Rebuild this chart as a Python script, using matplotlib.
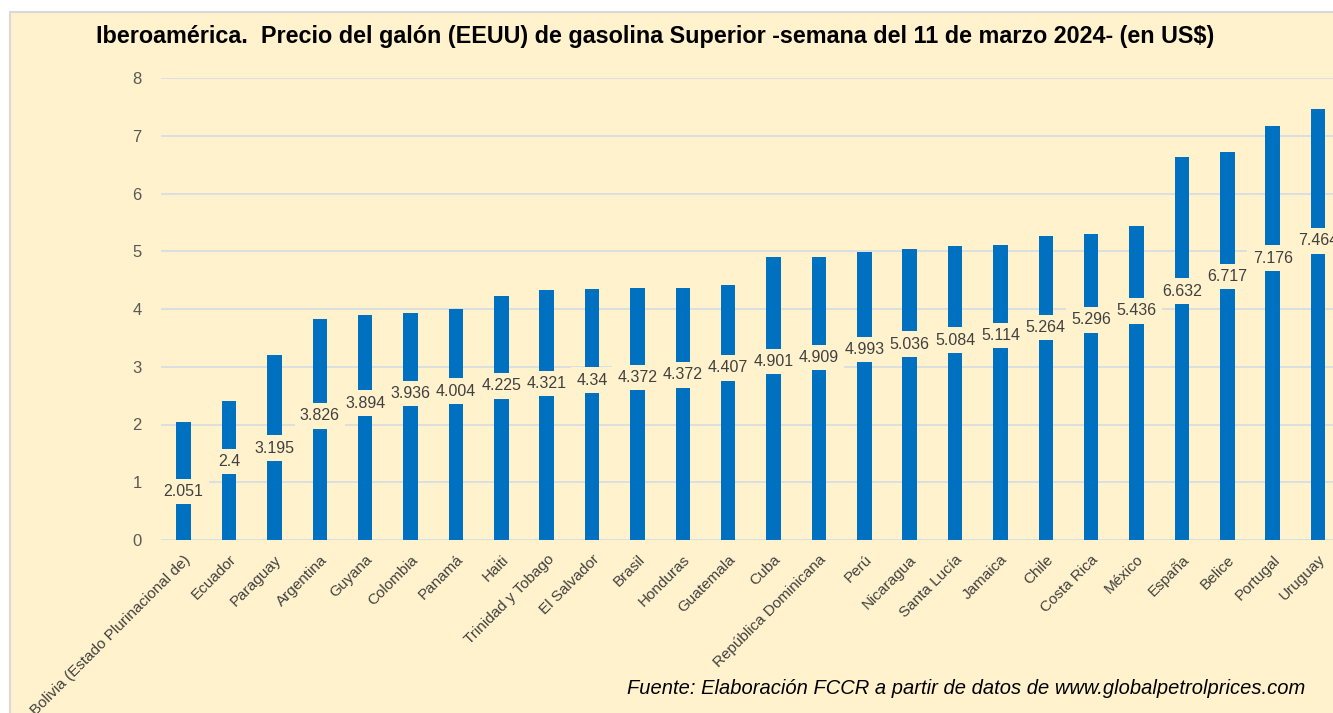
import matplotlib.pyplot as plt
from matplotlib.patches import Rectangle

plt.rcParams['font.family'] = ['Liberation Sans', 'DejaVu Sans']

# data (US$ por galón, semana del 11 de marzo 2024)
paises = ['Bolivia (Estado Plurinacional de)', 'Ecuador', 'Paraguay', 'Argentina', 'Guyana',
          'Colombia', 'Panamá', 'Haiti', 'Trinidad y Tobago', 'El Salvador', 'Brasil',
          'Honduras', 'Guatemala', 'Cuba', 'República Dominicana', 'Perú', 'Nicaragua',
          'Santa Lucía', 'Jamaica', 'Chile', 'Costa Rica', 'México', 'España', 'Belice',
          'Portugal', 'Uruguay']
precios = [2.051, 2.4, 3.195, 3.826, 3.894, 3.936, 4.004, 4.225, 4.321, 4.34, 4.372,
           4.372, 4.407, 4.901, 4.909, 4.993, 5.036, 5.084, 5.114, 5.264, 5.296, 5.436,
           6.632, 6.717, 7.176, 7.464]
# height of each value label (placed by hand in the original)
label_y = [0.84, 1.36, 1.59, 2.15, 2.37, 2.54, 2.58, 2.67, 2.71, 2.77, 2.81, 2.86, 2.98,
           3.09, 3.16, 3.30, 3.39, 3.46, 3.54, 3.68, 3.81, 3.97, 4.31, 4.56, 4.88, 5.18]
yticks = [0, 1, 2, 3, 4, 5, 6, 7, 8]

crema = '#FFF2CC'
azul = '#0070C0'

W, H = 1333, 713
fig = plt.figure(figsize=(W / 100, H / 100), dpi=100)
fig.patch.set_facecolor('white')

# cream panel with thin grey border
fondo = Rectangle((10 / W, -0.01), 1.0, (H - 12) / H + 0.01, transform=fig.transFigure,
                  facecolor=crema, edgecolor='#D9D9D9', linewidth=1.5, zorder=-5)
fig.patches.append(fondo)

ax = fig.add_axes([161 / W, (H - 540) / H, (W - 161) / W, 462 / H])
ax.set_facecolor('none')

x = list(range(len(paises)))
ax.bar(x, precios, width=0.32, color=azul, zorder=2)

for i in x:
    ax.text(i, label_y[i], f'{precios[i]:g}', ha='center', va='center', fontsize=11.5,
            color='#404040', zorder=3,
            bbox=dict(boxstyle='square,pad=0.33', facecolor=crema, edgecolor='none'))

ax.set_xlim(-0.5, 25.33)
ax.set_ylim(0, 8)
ax.set_yticks(yticks)
ax.set_yticklabels([str(t) for t in yticks], fontsize=12, color='#595959')
ax.yaxis.grid(True, color='#D6DCE5', linewidth=1.2, zorder=0)
ax.set_axisbelow(True)
ax.tick_params(axis='y', length=0, pad=14)
ax.tick_params(axis='x', length=0, pad=9)
ax.set_xticks(x)
ax.set_xticklabels(paises, rotation=45, ha='right', rotation_mode='anchor',
                   fontsize=11, color='#404040')
for s in ax.spines.values():
    s.set_visible(False)

fig.text(655 / W, 1 - 37 / H,
         'Iberoamérica.  Precio del galón (EEUU) de gasolina Superior -semana del 11 de marzo 2024- (en US$)',
         ha='center', va='center', fontsize=16.8, fontweight='bold', color='black')
fig.text(1305 / W, 1 - 688 / H,
         'Fuente: Elaboración FCCR a partir de datos de www.globalpetrolprices.com',
         ha='right', va='center', fontsize=14.5, style='italic', color='black')

fig.savefig('out.png', dpi=100)
